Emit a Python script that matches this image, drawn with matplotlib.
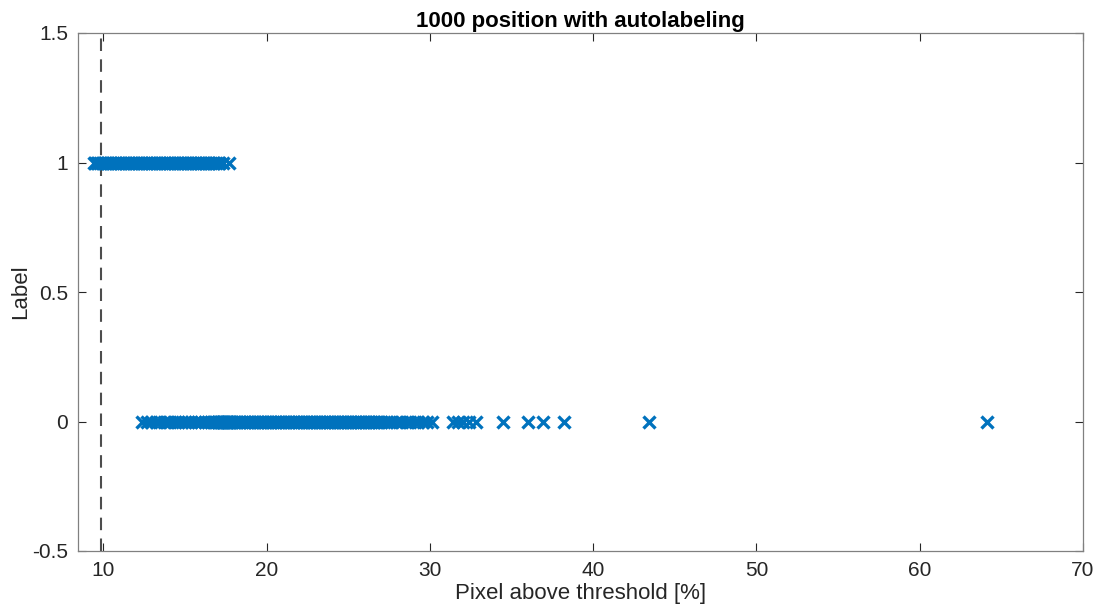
import matplotlib
matplotlib.use("Agg")
import matplotlib.pyplot as plt

plt.rcParams['font.family'] = ['Liberation Sans', 'DejaVu Sans']

title = "1000 position with autolabeling"
xlabel = "Pixel above threshold [%]"
ylabel = "Label"
threshold = 9.85

# Pixel percentages of positions labelled 1
pix_label1 = [9.4, 9.5, 9.6, 9.7, 9.8, 9.9, 10.0, 10.1, 10.2, 10.3, 10.4, 10.5,
              10.6, 10.7, 10.8, 10.9, 11.0, 11.1, 11.2, 11.3, 11.4, 11.5, 11.6,
              11.7, 11.8, 11.9, 12.0, 12.1, 12.2, 12.3, 12.4, 12.5, 12.6, 12.7,
              12.8, 12.9, 13.0, 13.1, 13.2, 13.3, 13.4, 13.5, 13.6, 13.7, 13.8,
              13.9, 14.0, 14.1, 14.2, 14.3, 14.4, 14.5, 14.6, 14.7, 14.8, 14.9,
              15.0, 15.1, 15.2, 15.3, 15.4, 15.5, 15.6, 15.7, 15.8, 15.9, 16.0,
              16.1, 16.2, 16.3, 16.4, 16.5, 16.6, 16.7, 16.8, 16.9, 17.0, 17.1,
              17.3, 17.7]

# Pixel percentages of positions labelled 0
pix_label0 = [12.4, 12.7, 12.9, 13.2, 13.4, 13.7, 13.9, 14.1, 14.4, 14.6, 14.8,
              15.0, 15.2, 15.4, 15.6, 15.8, 16.0, 16.2, 16.4, 16.6, 16.7, 16.8,
              16.9, 17.0, 17.05, 17.1, 17.15, 17.2, 17.25, 17.3, 17.35, 17.4,
              17.45, 17.5, 17.55, 17.6, 17.65, 17.7, 17.75, 17.8, 17.9,
              18.0, 18.1, 18.2, 18.3, 18.4, 18.5, 18.6, 18.7, 18.8, 18.9, 19.0,
              19.1, 19.2, 19.3, 19.4, 19.5, 19.6, 19.7, 19.8, 19.9, 20.0, 20.1,
              20.2, 20.3, 20.4, 20.5, 20.6, 20.7, 20.8, 20.9, 21.0, 21.1, 21.2,
              21.3, 21.4, 21.5, 21.6, 21.7, 21.8, 21.9, 22.0, 22.1, 22.2, 22.3,
              22.4, 22.5, 22.6, 22.7, 22.8, 22.9, 23.0, 23.1, 23.2, 23.3, 23.4,
              23.5, 23.6, 23.7, 23.8, 23.9, 24.0, 24.1, 24.2, 24.3, 24.4, 24.5,
              24.6, 24.7, 24.8, 24.9, 25.0, 25.1, 25.2, 25.3, 25.4, 25.5, 25.6,
              25.7, 25.8, 25.9, 26.0, 26.1, 26.2, 26.3, 26.4, 26.5, 26.6, 26.7,
              26.8, 26.9, 27.0, 27.2, 27.4, 27.6, 27.9, 28.1, 28.3, 28.6, 28.8,
              29.1, 29.3, 29.6, 29.8, 30.1,
              31.4, 31.7, 32.0, 32.4, 32.8, 34.5, 36.0, 36.9, 38.2, 43.4, 64.1]

label1 = [1] * len(pix_label1)
label0 = [0] * len(pix_label0)

xticks = [10, 20, 30, 40, 50, 60, 70]
yticks = [-0.5, 0, 0.5, 1, 1.5]
ytick_labels = ["-0.5", "0", "0.5", "1", "1.5"]

axis_color = "#262626"
marker_color = "#0072BD"

fig = plt.figure(figsize=(10.95, 6.15), dpi=100)
ax = fig.add_axes([78 / 1095, 1 - 551 / 615, (1083 - 78) / 1095, (551 - 33) / 615])

ax.axvline(threshold, color="#4d4d4d", linestyle=(0, (6, 4)), linewidth=1.5, zorder=1)
ax.plot(pix_label1, label1, linestyle="none", marker="x", markersize=8,
        markeredgewidth=2.4, color=marker_color, zorder=2)
ax.plot(pix_label0, label0, linestyle="none", marker="x", markersize=8,
        markeredgewidth=2.4, color=marker_color, zorder=2)

ax.set_xlim(8.45, 70)
ax.set_ylim(-0.5, 1.5)
ax.set_xticks(xticks)
ax.set_yticks(yticks)
ax.set_yticklabels(ytick_labels)

ax.tick_params(direction="in", top=True, right=True, length=6, width=0.8,
               colors=axis_color, labelsize=15, pad=7)
for s in ax.spines.values():
    s.set_color("#808080")
    s.set_linewidth(0.9)

ax.set_title(title, fontsize=16, fontweight="bold", color="black", pad=4)
ax.set_xlabel(xlabel, fontsize=16, color=axis_color, labelpad=2)
ax.set_ylabel(ylabel, fontsize=16, color=axis_color, labelpad=1)

fig.savefig("out.png", dpi=100)
